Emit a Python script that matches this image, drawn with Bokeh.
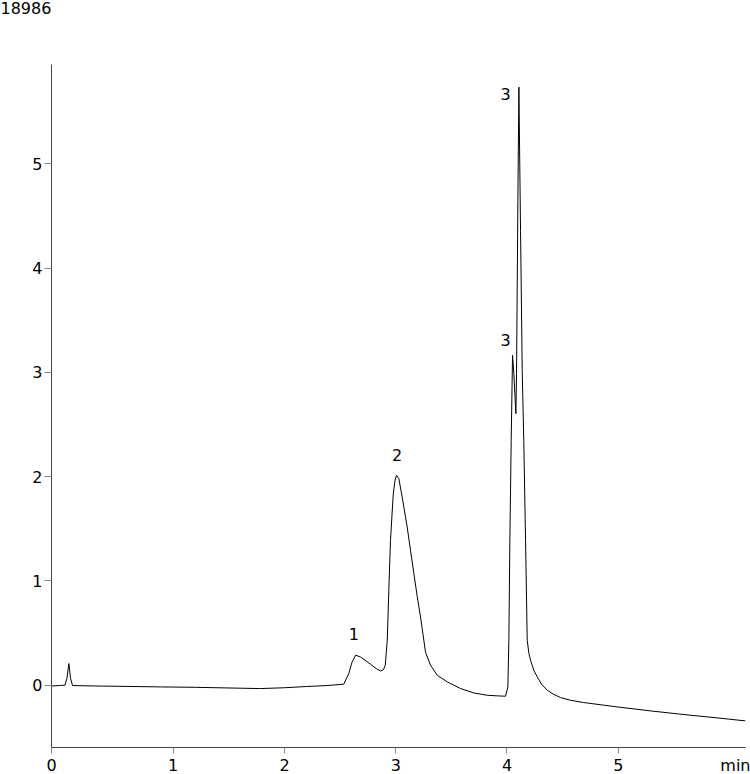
from bokeh.plotting import figure
from bokeh.models import Range1d, FixedTicker, ColumnDataSource, Title
from bokeh.core.properties import value
from bokeh.embed import file_html
from bokeh.resources import INLINE

# ---- data ----
time_min = [-0.094, -0.013, 0.027, 0.045, 0.062, 0.077, 0.095, 0.286, 0.5, 0.886,
            1.2, 1.485, 1.785, 2.0, 2.2, 2.384, 2.533, 2.578, 2.607, 2.639,
            2.684, 2.774, 2.827, 2.863, 2.890, 2.906, 2.924, 2.938, 2.953, 2.978,
            2.994, 3.007, 3.028, 3.058, 3.103, 3.133, 3.163, 3.193, 3.223, 3.268,
            3.313, 3.373, 3.463, 3.583, 3.702, 3.822, 3.930, 3.987, 4.008, 4.017,
            4.026, 4.038, 4.050, 4.062, 4.080, 4.086, 4.098, 4.107, 4.122, 4.137,
            4.151, 4.167, 4.182, 4.197, 4.212, 4.241, 4.272, 4.311, 4.362, 4.418,
            4.481, 4.571, 4.691, 4.991, 5.290, 5.590, 5.890, 6.144]
signal = [-0.007, -0.002, 0.000, 0.067, 0.208, 0.067, -0.003, -0.007, -0.010, -0.016,
          -0.020, -0.026, -0.032, -0.024, -0.012, -0.003, 0.010, 0.112, 0.220, 0.288,
          0.271, 0.201, 0.158, 0.137, 0.149, 0.192, 0.431, 0.911, 1.390, 1.837,
          1.965, 2.013, 1.981, 1.805, 1.517, 1.294, 1.071, 0.853, 0.655, 0.316,
          0.192, 0.096, 0.032, -0.032, -0.074, -0.096, -0.103, -0.105, -0.016, 0.431,
          1.390, 2.348, 3.163, 2.988, 2.604, 2.990, 4.649, 5.735, 4.361, 3.019,
          2.348, 1.390, 0.431, 0.307, 0.240, 0.144, 0.080, 0.010, -0.048, -0.086,
          -0.118, -0.144, -0.166, -0.208, -0.246, -0.281, -0.313, -0.342]

peak_label_x = [2.624, 3.013, 3.987, 3.987]
peak_label_y = [0.496, 2.204, 3.307, 5.671]
peak_label_text = ["1", "2", "3", "3"]

x_tick_pos = [-0.094, 1, 2, 3, 4, 5]
x_label_pos = [-0.094, 1, 2, 3, 4, 5, 6.055]
x_labels = ["0", "1", "2", "3", "4", "5", "min"]
y_ticks = [0, 1, 2, 3, 4, 5]
chart_id = "18986"

X_START, X_END = -0.094, 6.144
Y_START, Y_END = -0.597, 5.952

FONT = "DejaVu Sans"
FS = "16px"

p = figure(frame_width=694, frame_height=683,
           x_range=Range1d(X_START, X_END), y_range=Range1d(Y_START, Y_END),
           output_backend="svg", toolbar_location=None,
           min_border_left=51, min_border_right=5, min_border_top=64, min_border_bottom=27)

p.outline_line_color = None
p.xgrid.visible = False
p.ygrid.visible = False
p.background_fill_color = "white"
p.border_fill_color = "white"

# blank spacer between frame and title, so the title sits at the very top
spacer = Title(text=" ", text_font=FONT, text_font_size=FS, standoff=28)
p.add_layout(spacer, "above")

p.title.text = chart_id
p.title.align = "left"
p.title.vertical_align = "top"
p.title.offset = -51
p.title.standoff = 0
p.title.text_font = FONT
p.title.text_font_size = FS
p.title.text_font_style = "normal"
p.title.text_color = "black"

p.line(time_min, signal, line_color="black", line_width=1)

src = ColumnDataSource(dict(x=peak_label_x, y=peak_label_y, t=peak_label_text))
p.text(x="x", y="y", text="t", source=src, text_font=value(FONT), text_font_size=FS,
       text_align="center", text_baseline="middle", text_color="black")

# axes
for ax in (p.xaxis[0], p.yaxis[0]):
    ax.axis_line_color = "#444444"
    ax.axis_line_width = 1
    ax.major_tick_line_color = "#888888"
    ax.minor_tick_line_color = "#888888"
    ax.major_tick_in = 0
    ax.minor_tick_in = 0
    ax.major_label_text_font = FONT
    ax.major_label_text_font_size = FS
    ax.major_label_text_color = "black"

# x axis: labels (incl. start "0" and unit "min") on major ticks without marks,
# tick marks drawn as minor ticks
p.xaxis.ticker = FixedTicker(ticks=x_label_pos, minor_ticks=x_tick_pos)
p.xaxis.major_label_overrides = {t: l for t, l in zip(x_label_pos, x_labels)}
p.xaxis.major_tick_out = 0
p.xaxis.minor_tick_out = 6
p.xaxis.major_label_standoff = 2

p.yaxis.ticker = FixedTicker(ticks=y_ticks)
p.yaxis.major_tick_out = 7
p.yaxis.minor_tick_line_color = None
p.yaxis.major_label_standoff = 2

open("out.html", "w").write(file_html(p, INLINE))
